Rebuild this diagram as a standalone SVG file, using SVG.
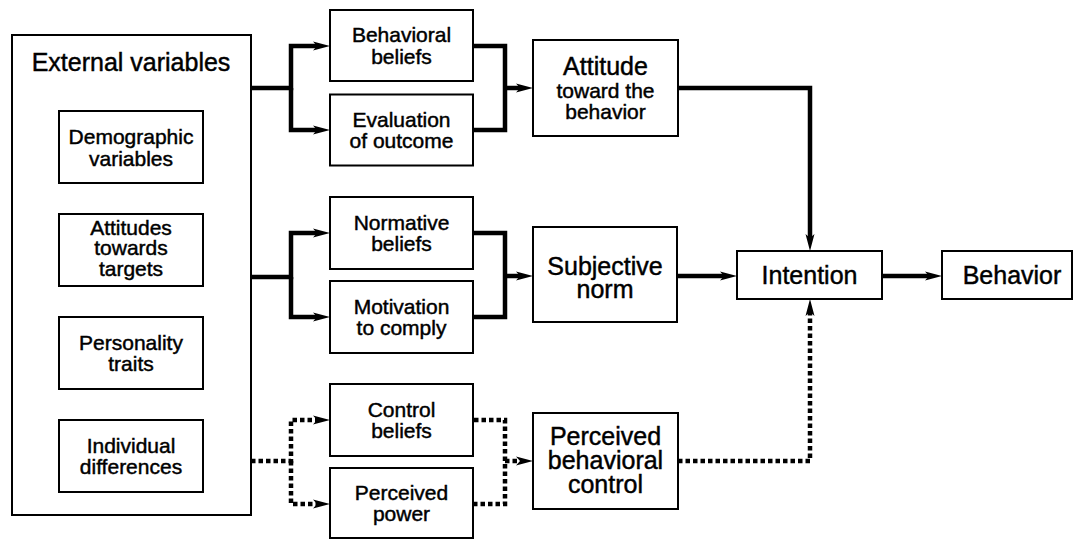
<svg xmlns="http://www.w3.org/2000/svg" width="1076" height="539" viewBox="0 0 1076 539">
  <defs>
    <style>
      .box { fill: #fff; stroke: #000; stroke-width: 2; }
      .lbl { font-family: "Liberation Sans", Arial, Helvetica, sans-serif; fill: #000; stroke: #000; stroke-width: 0.45; text-anchor: middle; }
      .s21 { font-size: 21px; }
      .s25 { font-size: 25px; }
      .link { fill: none; stroke: #000; stroke-width: 4.5; stroke-linejoin: miter; }
      .dot { stroke-dasharray: 4.5 3; }
    </style>
    <marker id="arrow" markerUnits="userSpaceOnUse" markerWidth="18" markerHeight="10" refX="4" refY="5" orient="auto" viewBox="0 0 18 10">
      <path d="M0,0.5 L17,5 L0,9.5 L4,5 z" fill="#000"/>
    </marker>
  </defs>

  <rect width="1076" height="539" fill="#fff"/>

  <!-- connectors -->
  <g id="connectors">
    <!-- external variables to belief groups -->
    <path class="link" d="M251,88 H291 V46 H317" marker-end="url(#arrow)"/>
    <path class="link" d="M291,88 V130 H317" marker-end="url(#arrow)"/>
    <path class="link" d="M251,277 H291 V233 H317" marker-end="url(#arrow)"/>
    <path class="link" d="M291,277 V317 H317" marker-end="url(#arrow)"/>
    <path class="link dot" d="M251,461 H291 V420 H317" marker-end="url(#arrow)"/>
    <path class="link dot" d="M291,461 V504 H317" marker-end="url(#arrow)"/>

    <!-- belief pairs joined into the three determinants -->
    <path class="link" d="M473,46 H505 V130 H473"/>
    <path class="link" d="M505,88 H520" marker-end="url(#arrow)"/>
    <path class="link" d="M473,233 H505 V317 H473"/>
    <path class="link" d="M505,276 H520" marker-end="url(#arrow)"/>
    <path class="link dot" d="M474,420 H505 V504 H474"/>
    <path class="link dot" d="M505,461 H520" marker-end="url(#arrow)"/>

    <!-- determinants to intention, intention to behavior -->
    <path class="link" d="M678,88 H810 V238" marker-end="url(#arrow)"/>
    <path class="link" d="M677,276 H724" marker-end="url(#arrow)"/>
    <path class="link dot" d="M678,461 H810 V312" marker-end="url(#arrow)"/>
    <path class="link" d="M882,276 H929" marker-end="url(#arrow)"/>
  </g>

  <!-- external variables container -->
  <g id="external">
    <rect class="box" x="12" y="35" width="239" height="480"/>
    <text class="lbl s25" x="131" y="71">External variables</text>
  </g>
  <g id="demographic">
    <rect class="box" x="59" y="111" width="144" height="72"/>
    <text class="lbl s21" x="131" y="144">Demographic<tspan x="131" dy="21.5">variables</tspan></text>
  </g>
  <g id="attitudes-targets">
    <rect class="box" x="59" y="214" width="144" height="72"/>
    <text class="lbl s21" x="131" y="234.5">Attitudes<tspan x="131" dy="20.5">towards</tspan><tspan x="131" dy="20.5">targets</tspan></text>
  </g>
  <g id="personality">
    <rect class="box" x="59" y="317" width="144" height="72"/>
    <text class="lbl s21" x="131" y="349.5">Personality<tspan x="131" dy="21.5">traits</tspan></text>
  </g>
  <g id="individual">
    <rect class="box" x="59" y="420" width="144" height="72"/>
    <text class="lbl s21" x="131" y="452.5">Individual<tspan x="131" dy="21.5">differences</tspan></text>
  </g>

  <!-- belief boxes -->
  <g id="behavioral-beliefs">
    <rect class="box" x="330" y="10" width="143" height="71"/>
    <text class="lbl s21" x="401.5" y="42">Behavioral<tspan x="401.5" dy="21.5">beliefs</tspan></text>
  </g>
  <g id="evaluation">
    <rect class="box" x="330" y="94.5" width="143" height="71"/>
    <text class="lbl s21" x="401.5" y="126.5">Evaluation<tspan x="401.5" dy="21.5">of outcome</tspan></text>
  </g>
  <g id="normative-beliefs">
    <rect class="box" x="330" y="197" width="143" height="72"/>
    <text class="lbl s21" x="401.5" y="229.5">Normative<tspan x="401.5" dy="21.5">beliefs</tspan></text>
  </g>
  <g id="motivation">
    <rect class="box" x="330" y="281" width="143" height="72"/>
    <text class="lbl s21" x="401.5" y="313.5">Motivation<tspan x="401.5" dy="21.5">to comply</tspan></text>
  </g>
  <g id="control-beliefs">
    <rect class="box" x="330" y="384" width="143" height="72"/>
    <text class="lbl s21" x="401.5" y="416.5">Control<tspan x="401.5" dy="21.5">beliefs</tspan></text>
  </g>
  <g id="perceived-power">
    <rect class="box" x="330" y="468" width="143" height="70"/>
    <text class="lbl s21" x="401.5" y="499.5">Perceived<tspan x="401.5" dy="21.5">power</tspan></text>
  </g>

  <!-- determinants -->
  <g id="attitude">
    <rect class="box" x="533" y="40" width="145" height="96"/>
    <text class="lbl s25" x="605.5" y="75">Attitude<tspan class="s21" x="605.5" dy="22.5">toward the</tspan><tspan class="s21" x="605.5" dy="21.5">behavior</tspan></text>
  </g>
  <g id="subjective-norm">
    <rect class="box" x="533" y="227" width="144" height="95"/>
    <text class="lbl s25" x="605" y="275">Subjective<tspan x="605" dy="22.5">norm</tspan></text>
  </g>
  <g id="perceived-control">
    <rect class="box" x="533" y="413" width="145" height="96"/>
    <text class="lbl s25" x="605.5" y="445">Perceived<tspan x="605.5" dy="24">behavioral</tspan><tspan x="605.5" dy="24">control</tspan></text>
  </g>

  <!-- outcome -->
  <g id="intention">
    <rect class="box" x="737" y="251" width="145" height="48"/>
    <text class="lbl s25" x="809.5" y="284">Intention</text>
  </g>
  <g id="behavior">
    <rect class="box" x="942" y="251" width="130" height="48"/>
    <text class="lbl s25" x="1012" y="284">Behavior</text>
  </g>
</svg>
